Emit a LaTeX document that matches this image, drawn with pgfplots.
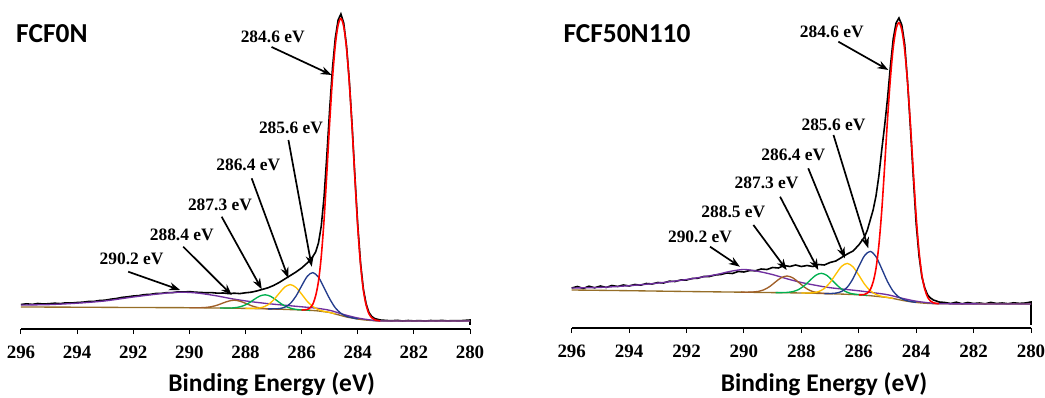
\documentclass[border=0pt]{standalone}
\usepackage{pgfplots}
\pgfplotsset{compat=1.18}
\usepackage{fontspec}
\usetikzlibrary{arrows.meta}
\newfontfamily\carlito{Carlito}
\newfontfamily\lserif{Liberation Serif}
\newcommand\tickfont{\lserif\bfseries\fontsize{19}{20}\selectfont}
\newcommand\labfont{\lserif\bfseries\fontsize{17.5}{18}\selectfont}
\newcommand\titfont{\carlito\bfseries\fontsize{27.5}{30}\selectfont}
\newcommand\xlabfont{\carlito\bfseries\fontsize{25.5}{28}\selectfont}
\definecolor{cred}{RGB}{255,0,0}
\definecolor{cblue}{RGB}{35,60,140}
\definecolor{cyellow}{RGB}{255,192,0}
\definecolor{cgreen}{RGB}{0,176,80}
\definecolor{cbrown}{RGB}{160,95,40}
\definecolor{cpurple}{RGB}{112,48,160}
\definecolor{cbase}{RGB}{150,110,40}
\tikzset{arr/.style={-{Stealth[length=11bp,width=8bp]}, line width=1.7pt, black},
  lab/.style={font=\labfont, inner sep=0pt}}
\pgfplotsset{xps/.style={scale only axis, x dir=reverse, xmin=280, xmax=296, ymin=0,
  axis x line*=bottom, axis y line=none, xtick={280,282,...,296},
  tick align=outside, major tick length=5bp, xtick style={black, line width=1pt},
  axis line style={black, line width=1.2pt,-}, xticklabel style={font=\tickfont},
  xticklabel shift=8.5bp,
  /pgf/number format/assume math mode=true, /pgf/number format/1000 sep={},
  clip=false, every axis plot/.append style={line width=1.35pt}}}
\begin{document}
\begin{tikzpicture}
\useasboundingbox (0,0) rectangle (1045bp,398bp);
% ---------------- left panel ----------------
\begin{axis}[xps, at={(21bp,69bp)}, anchor=south west, width=449bp, height=329bp, ymax=329]
\addplot[black, line width=1.6pt] coordinates {
(296.0,24.5) (295.8,25.2) (295.6,24.6) (295.4,25.5) (295.2,25) (295.0,25.3) (294.8,25.8) (294.6,25.4)
(294.4,26.2) (294.2,26) (294.0,26.5) (293.8,26.8) (293.6,27.5) (293.4,27.6) (293.2,28.5) (293.0,28.8)
(292.8,29.8) (292.6,30.5) (292.4,31.6) (292.2,32.2) (292.0,33) (291.8,33.4) (291.6,34.4) (291.4,34.6)
(291.2,35.5) (291.0,35.6) (290.8,36.4) (290.6,36.4) (290.4,37.2) (290.2,37) (290.0,37.4) (289.8,36.8)
(289.6,36.6) (289.4,36.2) (289.2,36.4) (289.0,35.8) (288.8,36) (288.6,35.4) (288.4,35.8) (288.2,35.4)
(288.0,36.2) (287.8,36.8) (287.6,38) (287.4,39.6) (287.2,41.2) (287.0,43.5) (286.8,46.5) (286.6,50)
(286.4,53.5) (286.2,57) (286.0,61) (285.8,66) (285.7,69) (285.6,72.5) (285.5,77) (285.4,86)
(285.3,103) (285.2,132) (285.1,174) (285.0,220) (284.9,261) (284.8,291) (284.7,309) (284.6,315)
(284.5,306) (284.4,283) (284.3,248) (284.2,203) (284.1,152) (284.0,104) (283.9,66) (283.8,40)
(283.7,25) (283.6,16.5) (283.5,12.5) (283.4,10.5) (283.2,9) (283.0,8.6) (282.8,8.2) (282.6,8.7)
(282.4,8) (282.2,8.5) (282.0,8.1) (281.8,8.4) (281.6,7.9) (281.4,8.5) (281.2,8.2) (281.0,8.6)
(280.8,8.1) (280.6,8.4) (280.4,8.2) (280.2,8.6) (280.0,9) (280.0,4)};
\addplot[cbase, smooth] coordinates {
(296,22) (294,21.8) (292,21.5) (290,21.3) (289,21) (288,20.6) (287,20) (286.5,19.5) (286,19)
(285.5,18.3) (285,16.5) (284.8,15) (284.6,13.5) (284.4,12) (284.2,11) (284,10) (283.8,9.2)
(283.5,8.5) (283,8) (280,8)};
\addplot[cpurple, smooth] coordinates {
(296,24) (295,24.4) (294,25.8) (293,28.1) (292,32) (291,35.4) (290.5,36.6) (290.2,36.8)
(289.8,36.2) (289.5,35.2) (289,33) (288.5,30.3) (288,28.1) (287.5,26.3) (287,24.8) (286,22.2)
(285.5,20.9) (285,18.7) (284.5,14.5) (284,11) (283.5,8.9) (283,8) (280,8)};
\addplot[cbrown, smooth] coordinates {
(286.8,19.8) (287.0,20) (287.2,20.2) (287.4,20.7) (287.6,21.7) (287.8,23.4) (288.0,25.7) (288.2,27.8)
(288.4,28.8) (288.6,27.9) (288.8,26.0) (289.0,23.9) (289.2,22.4) (289.4,21.6) (289.6,21.3) (289.8,21.2) (290.0,21.3)};
\addplot[cgreen, smooth] coordinates {
(285.7,18.6) (285.9,19.0) (286.1,19.3) (286.3,20.1) (286.5,21.8) (286.7,24.7) (286.9,28.8) (287.1,32.6)
(287.3,34.2) (287.5,32.8) (287.7,29.4) (287.9,25.6) (288.1,23.0) (288.3,21.6) (288.5,21.0) (288.7,21.0) (288.9,21.0)};
\addplot[cyellow, smooth] coordinates {
(284.8,15) (285.0,16.6) (285.2,17.6) (285.4,19.4) (285.6,22.5) (285.8,27.7) (286.0,34.9) (286.2,41.5)
(286.4,44.4) (286.6,41.9) (286.8,35.7) (287.0,29) (287.2,24.2) (287.4,21.7) (287.6,20.8) (287.8,20.6) (288.0,20.6)};
\addplot[cblue, smooth] coordinates {
(284.0,10) (284.2,11.2) (284.4,12.6) (284.6,15.7) (284.8,21.2) (285.0,30.2) (285.2,41.3) (285.4,51.8)
(285.6,56.4) (285.8,52.6) (286.0,43.1) (286.2,32.9) (286.4,25.6) (286.6,21.8) (286.8,20.4) (287.0,20.2) (287.2,20.1)};
\addplot[cred, smooth, line width=1.6pt] coordinates {
(283.2,8.1) (283.4,9.3) (283.5,11.2) (283.6,15.2) (283.7,23.8) (283.8,38.9) (283.9,64.5) (284.0,102.1)
(284.1,150.1) (284.2,201.1) (284.3,246.1) (284.4,280.8) (284.5,302.4) (284.6,310.5) (284.7,303.8)
(284.8,283.8) (284.9,250.4) (285.0,206.6) (285.1,156.5) (285.2,109.3) (285.3,72.5) (285.4,47.6)
(285.5,33.2) (285.6,24.9) (285.7,21.2) (285.8,19.5) (286.0,19.0)};
\draw[arr] (axis cs:287.07,282) -- (axis cs:284.93,254);
\node[lab] at (axis cs:287.03,292) {284.6 eV};
\draw[arr] (axis cs:286.47,189) -- (axis cs:285.64,62.3);
\node[lab] at (axis cs:286.38,200.7) {285.6 eV};
\draw[arr] (axis cs:287.78,150.7) -- (axis cs:286.47,50.7);
\node[lab] at (axis cs:287.9,164) {286.4 eV};
\draw[arr] (axis cs:288.85,112.3) -- (axis cs:287.42,39.7);
\node[lab] at (axis cs:288.91,124) {287.3 eV};
\draw[arr] (axis cs:290.22,82.3) -- (axis cs:288.49,34);
\node[lab] at (axis cs:290.27,94) {288.4 eV};
\draw[arr] (axis cs:292.18,57.3) -- (axis cs:290.33,39);
\node[lab] at (axis cs:292.06,69.7) {290.2 eV};
\end{axis}
% ---------------- right panel ----------------
\begin{axis}[xps, at={(571.7bp,70bp)}, anchor=south west, width=459.3bp, height=328bp, ymax=328]
\addplot[black, line width=1.6pt] coordinates {
(296.0,40) (295.8,41.5) (295.6,39.5) (295.4,41.8) (295.2,40.2) (295.0,42) (294.8,40.5) (294.6,42.5)
(294.4,41.5) (294.2,43) (294.0,42) (293.8,43.5) (293.6,42.8) (293.4,44.5) (293.2,44) (293.0,45.5)
(292.8,45) (292.6,46.8) (292.4,46.5) (292.2,48) (292.0,48) (291.8,49.5) (291.6,49.8) (291.4,51.5)
(291.2,51.5) (291.0,53) (290.8,53.5) (290.6,55) (290.4,54.5) (290.2,56.5) (290.0,56) (289.8,57.5)
(289.6,57.2) (289.4,59) (289.2,58.5) (289.0,60.5) (288.8,60) (288.6,62.5) (288.4,61.5) (288.2,63)
(288.0,61.5) (287.8,62.5) (287.6,61.5) (287.4,63.5) (287.2,63) (287.0,65.5) (286.8,67) (286.6,70.5)
(286.4,74) (286.2,77) (286.0,83) (285.8,91) (285.7,98) (285.6,108) (285.5,118) (285.4,132)
(285.3,152) (285.2,178) (285.1,202) (285.0,229) (284.9,261) (284.8,289) (284.7,305) (284.6,310)
(284.5,303) (284.4,284) (284.3,246) (284.2,200) (284.1,151) (284.0,104) (283.9,72) (283.8,51)
(283.7,40) (283.6,33) (283.5,30) (283.4,28) (283.2,26) (283.0,25.5) (282.8,24.5) (282.6,25.8)
(282.4,24.2) (282.2,25.5) (282.0,24.5) (281.8,25) (281.6,24.2) (281.4,25.6) (281.2,24.5) (281.0,25)
(280.8,24.3) (280.6,25.2) (280.4,24.6) (280.2,25) (280.0,26) (280.0,3)};
\addplot[cbase, smooth] coordinates {
(296,38) (294,37.3) (292,36.5) (290,35.8) (289,35.4) (288,35) (287,34.3) (286,33.2) (285.5,32)
(285,30.5) (284.8,29.5) (284.6,28.3) (284.4,27.2) (284.2,26.3) (284,25.6) (283.8,25) (283.5,24.5)
(283,24.2) (280,24)};
\addplot[cpurple, smooth] coordinates {
(296,40) (295,40.6) (294,42.3) (293,44.9) (292,48.5) (291,53.2) (290.5,56.5) (290,58.5) (289.5,56.6)
(289,53.4) (288.5,49.2) (288,45.5) (287.5,42.7) (287,40.3) (286,37.2) (285.5,35.3) (285,33.3)
(284.5,29.8) (284,26.8) (283.5,25) (283,24.2) (280,24)};
\addplot[cbrown, smooth] coordinates {
(286.9,34.2) (287.1,34.4) (287.3,34.8) (287.5,35.7) (287.7,37.5) (287.9,41.0) (288.1,45.8) (288.3,50.2)
(288.5,52.0) (288.7,50.3) (288.9,46.1) (289.1,41.5) (289.3,38.3) (289.5,36.6) (289.7,36.0) (289.9,35.8) (290.1,35.9)};
\addplot[cgreen, smooth] coordinates {
(285.7,32.5) (285.9,33.1) (286.1,33.7) (286.3,34.7) (286.5,37.1) (286.7,41.3) (286.9,47.0) (287.1,52.4)
(287.3,54.7) (287.5,52.7) (287.7,47.6) (287.9,42.3) (288.1,38.4) (288.3,36.4) (288.5,35.6) (288.7,35.4) (288.9,35.4)};
\addplot[cyellow, smooth] coordinates {
(284.8,29.5) (285.0,30.6) (285.2,31.6) (285.4,33.6) (285.6,37.3) (285.8,43.9) (286.0,52.9) (286.2,61.1)
(286.4,64.6) (286.6,61.6) (286.8,53.8) (287.0,45.5) (287.2,39.5) (287.4,36.4) (287.6,35.2) (287.8,35.0) (288.0,35)};
\addplot[cblue, smooth] coordinates {
(284.0,25.6) (284.2,26.5) (284.4,28.0) (284.6,30.9) (284.8,36.7) (285.0,46.5) (285.2,59.3) (285.4,71.4)
(285.6,76.6) (285.8,72.3) (286.0,61.4) (286.2,49.4) (286.4,40.8) (286.6,36.5) (286.8,34.9) (287.0,34.5) (287.2,34.4)};
\addplot[cred, smooth, line width=1.6pt] coordinates {
(283.2,24.3) (283.4,25.2) (283.5,27.0) (283.6,30.8) (283.7,38.8) (283.8,52.7) (283.9,76.5) (284.0,111.5)
(284.1,156.2) (284.2,203.6) (284.3,245.6) (284.4,277.9) (284.5,297.9) (284.6,305.3) (284.7,299)
(284.8,280.2) (284.9,248.8) (285.0,207.8) (285.1,161) (285.2,117) (285.3,82.7) (285.4,59.5)
(285.5,45.9) (285.6,38.3) (285.7,35) (285.8,33.5) (286.0,33.2)};
\draw[arr] (axis cs:286.71,286.3) -- (axis cs:284.97,258);
\node[lab] at (axis cs:286.94,296.3) {284.6 eV};
\draw[arr] (axis cs:286.88,193) -- (axis cs:285.67,79.7);
\node[lab] at (axis cs:286.88,203) {285.6 eV};
\draw[arr] (axis cs:287.76,159.7) -- (axis cs:286.48,69.7);
\node[lab] at (axis cs:288.28,173) {286.4 eV};
\draw[arr] (axis cs:288.74,131.3) -- (axis cs:287.41,58);
\node[lab] at (axis cs:289.21,144.7) {287.3 eV};
\draw[arr] (axis cs:289.67,103) -- (axis cs:288.51,58);
\node[lab] at (axis cs:290.37,116.3) {288.5 eV};
\draw[arr] (axis cs:291.18,81.3) -- (axis cs:290.14,61.3);
\node[lab] at (axis cs:291.53,91.3) {290.2 eV};
\end{axis}
% titles and axis labels
\node[font=\titfont, anchor=west, inner sep=0pt] at (16bp,364bp) {FCF0N};
\node[font=\titfont, anchor=west, inner sep=0pt] at (563.3bp,364bp) {FCF50N110};
\node[font=\xlabfont, inner sep=0pt] at (271.7bp,14bp) {Binding Energy (eV)};
\node[font=\xlabfont, inner sep=0pt] at (824bp,13.5bp) {Binding Energy (eV)};
\end{tikzpicture}
\end{document}
